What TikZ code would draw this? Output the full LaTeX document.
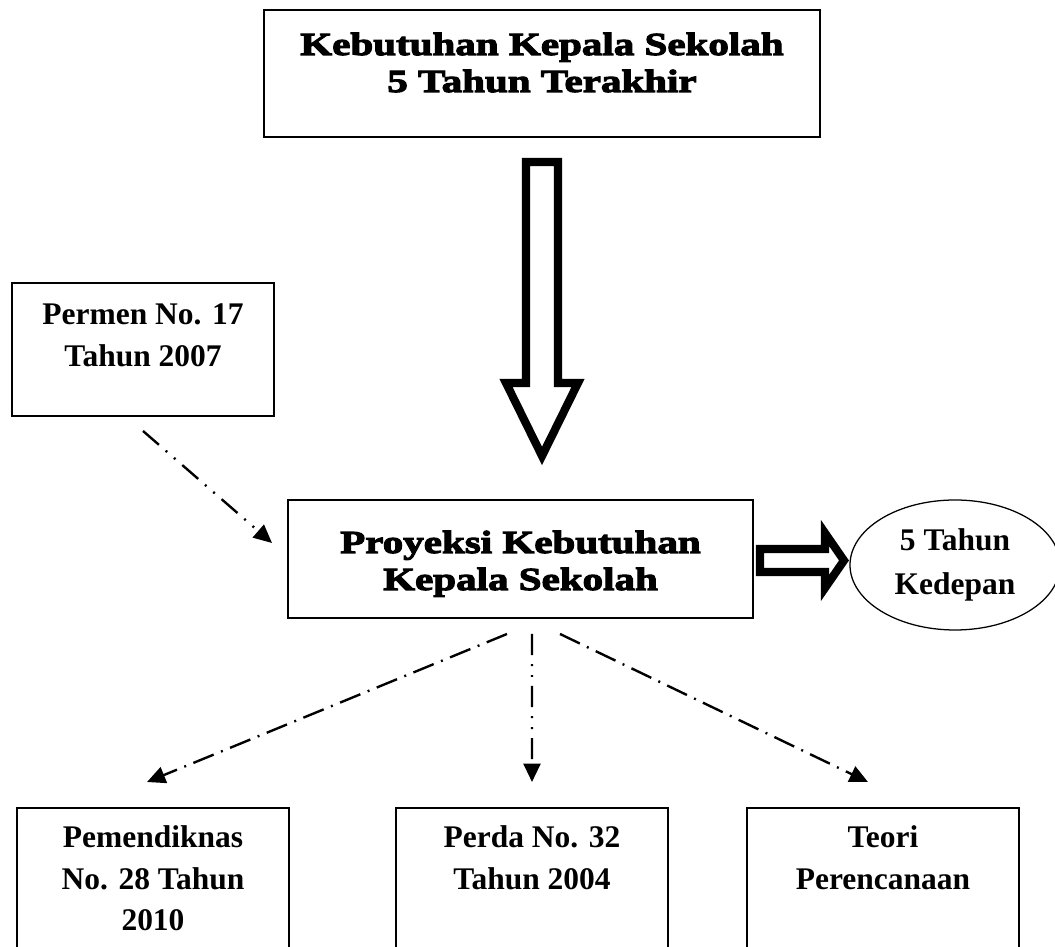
\documentclass[tikz,border=0pt]{standalone}
\usepackage{fontspec}
\setmainfont{Liberation Serif}
\newfontfamily\tebal[FakeBold=3.5,FakeStretch=1.28]{Liberation Serif Bold}
\usetikzlibrary{arrows.meta,shapes.geometric}
\newcommand{\isi}[4]{\parbox[c][#1][t]{#2}{\centering\rule{0pt}{#3}#4}}
\begin{document}
\begin{tikzpicture}[
  kotak/.style={draw,line width=1.4pt,inner sep=0pt},
  blok/.style={draw,line width=5.8pt,line join=miter,miter limit=10},
  putus/.style={line width=1.7pt,dash pattern=on 15.6pt off 5.6pt on 1.4pt off 5.6pt,-{Triangle[length=13pt,width=12pt]}},
  putus dua/.style={line width=1.7pt,dash pattern=on 15pt off 6.4pt on 1.4pt off 6.4pt on 1.4pt off 6.4pt,-{Triangle[length=13pt,width=12pt]}},
  font=\bfseries\fontsize{22.4}{29.2}\selectfont]
\useasboundingbox (0,0) rectangle (26.375,23.675);

%%% KOTAK %%%
\node [kotak,font=\tebal\fontsize{22.8}{26.3}\selectfont] at (13.55,21.8375) (kebutuhan) {\isi{3.175cm}{13.9cm}{1.125cm}{Kebutuhan Kepala Sekolah\\5 Tahun Terakhir}};
\node [kotak] at (3.575,14.9375) (permen) {\isi{3.325cm}{6.55cm}{1.05cm}{Permen No. 17\\Tahun 2007}};
\node [kotak,font=\tebal\fontsize{22.8}{26.3}\selectfont] at (13.0125,9.7) (proyeksi) {\isi{2.95cm}{11.625cm}{1.325cm}{Proyeksi Kebutuhan\\Kepala Sekolah}};
\node [draw,ellipse,line width=0.9pt,minimum width=5.25cm,minimum height=3.25cm,inner sep=0pt,align=center,font=\bfseries\fontsize{22.4}{31.3}\selectfont] at (23.875,9.55) (kedepan) {5 Tahun\\Kedepan};

\node [kotak] at (3.825,1.075) (pemendiknas) {\isi{4.8cm}{6.8cm}{1.0cm}{Pemendiknas\\No. 28 Tahun\\2010}};
\node [kotak] at (13.3,1.075) (perda) {\isi{4.8cm}{6.8cm}{1.0cm}{Perda No. 32\\Tahun 2004}};
\node [kotak] at (22.075,1.075) (teori) {\isi{4.8cm}{6.8cm}{1.0cm}{Teori\\Perencanaan}};

%%% PANAH BLOK %%%
\begin{scope}[shift={(kebutuhan.south)}]
\draw [blok] (-0.4,-0.6) -- (-0.4,-6.125) -- (-0.9,-6.125) -- (0,-7.95) -- (0.9,-6.125) -- (0.4,-6.125) -- (0.4,-0.6) -- cycle;
\end{scope}
\begin{scope}[shift={(proyeksi.east)}]
\draw [blok] (0.15,0.25) -- (1.775,0.25) -- (1.775,0.65) -- (2.25,-0.0375) -- (1.775,-0.725) -- (1.775,-0.325) -- (0.15,-0.325) -- cycle;
\end{scope}

%%% PANAH PUTUS %%%
\draw [putus dua] ([yshift=-0.35cm]permen.south) -- ([xshift=-0.375cm,yshift=0.4cm]proyeksi.west);
\draw [putus] ([xshift=-0.3375cm,yshift=-0.375cm]proyeksi.south) -- ([xshift=-0.15cm,yshift=0.625cm]pemendiknas.north);
\draw [putus dua] ([xshift=0.2875cm,yshift=-0.375cm]proyeksi.south) -- ([yshift=0.625cm]perda.north);
\draw [putus] ([xshift=0.9875cm,yshift=-0.375cm]proyeksi.south) -- ([xshift=-0.375cm,yshift=0.625cm]teori.north);
\end{tikzpicture}
\end{document}
